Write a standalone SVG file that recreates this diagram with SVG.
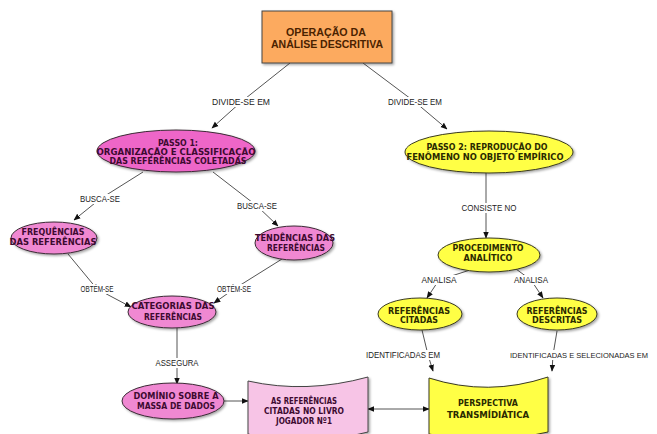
<svg xmlns="http://www.w3.org/2000/svg" width="657" height="434" viewBox="0 0 657 434">
<defs>
<filter id="sh" x="-20%" y="-20%" width="140%" height="150%">
<feDropShadow dx="1.5" dy="1.5" stdDeviation="1" flood-color="#000" flood-opacity="0.35"/>
</filter>
<marker id="ah" viewBox="0 0 10 10" refX="9" refY="5" markerWidth="7" markerHeight="7" orient="auto" markerUnits="userSpaceOnUse">
<path d="M0,1 L10,5 L0,9 Z" fill="#111"/>
</marker>
<marker id="ahs" viewBox="0 0 10 10" refX="1" refY="5" markerWidth="7" markerHeight="7" orient="auto" markerUnits="userSpaceOnUse">
<path d="M10,1 L0,5 L10,9 Z" fill="#111"/>
</marker>
</defs>
<style>
.bg{fill:#ffffff}
.ln{fill:none;stroke:#555;stroke-width:1}
.lab{font-family:"Liberation Sans",Arial,sans-serif;font-size:8.5px;fill:#222;text-anchor:middle}
.lbg{fill:#ffffff}
.nt{font-family:"DejaVu Sans",Verdana,sans-serif;font-weight:bold;font-size:8.5px;text-anchor:middle}
.pk1{fill:#ee66c8;stroke:#3a2a34;stroke-width:1;filter:url(#sh)}
.pk{fill:#f088d2;stroke:#3a2a34;stroke-width:1;filter:url(#sh)}
.pkb{fill:#f7c4e6;stroke:#444;stroke-width:1;filter:url(#sh)}
.yl{fill:#ffff44;stroke:#3a3a20;stroke-width:1;filter:url(#sh)}
.or{fill:#fcaa5e;stroke:#444;stroke-width:1;filter:url(#sh)}
.tp{fill:#3d0a30}
.ty{fill:#2a2a00}
.to{fill:#4a2200;font-family:"Liberation Sans",Arial,sans-serif;font-weight:bold;font-size:10.5px;text-anchor:middle}
</style>
<rect class="bg" x="0" y="0" width="657" height="434"/>

<g id="connectors">
<polyline class="ln" points="290,63 241,102 212,128" marker-end="url(#ah)"/>
<polyline class="ln" points="363,63 415,102 447,129" marker-end="url(#ah)"/>
<polyline class="ln" points="143,172 100,199 74,220" marker-end="url(#ah)"/>
<polyline class="ln" points="213,172 257,206 278,226" marker-end="url(#ah)"/>
<polyline class="ln" points="68,254 97,289 131,307" marker-end="url(#ah)"/>
<polyline class="ln" points="282,259 234,289 214,303" marker-end="url(#ah)"/>
<polyline class="ln" points="177,328 177,363 177,384" marker-end="url(#ah)"/>
<line class="ln" x1="224" y1="401" x2="248" y2="401" marker-end="url(#ah)"/>
<line class="ln" x1="368" y1="409" x2="429" y2="409" marker-start="url(#ahs)" marker-end="url(#ah)"/>
<polyline class="ln" points="486,173 486,208 486,238" marker-end="url(#ah)"/>
<polyline class="ln" points="470,270 439,280 427,298" marker-end="url(#ah)"/>
<polyline class="ln" points="516,269 531,280 543,298" marker-end="url(#ah)"/>
<polyline class="ln" points="422,330 428,355 433,371" marker-end="url(#ah)"/>
<polyline class="ln" points="557,331 553,355 552,371" marker-end="url(#ah)"/>

<rect class="lbg" x="211" y="97" width="60" height="10"/>
<text class="lab" x="241" y="105" textLength="58" lengthAdjust="spacingAndGlyphs">DIVIDE-SE EM</text>
<rect class="lbg" x="387" y="97" width="56" height="10"/>
<text class="lab" x="415" y="105" textLength="54" lengthAdjust="spacingAndGlyphs">DIVIDE-SE EM</text>
<rect class="lbg" x="79" y="194" width="42" height="10"/>
<text class="lab" x="100" y="202" textLength="40" lengthAdjust="spacingAndGlyphs">BUSCA-SE</text>
<rect class="lbg" x="236" y="201" width="42" height="10"/>
<text class="lab" x="257" y="209" textLength="40" lengthAdjust="spacingAndGlyphs">BUSCA-SE</text>
<rect class="lbg" x="80" y="284" width="35" height="10"/>
<text class="lab" x="97" y="292" textLength="33" lengthAdjust="spacingAndGlyphs">OBTÉM-SE</text>
<rect class="lbg" x="216" y="284" width="36" height="10"/>
<text class="lab" x="234" y="292" textLength="34" lengthAdjust="spacingAndGlyphs">OBTÉM-SE</text>
<rect class="lbg" x="154" y="358" width="46" height="10"/>
<text class="lab" x="177" y="366" textLength="43" lengthAdjust="spacingAndGlyphs">ASSEGURA</text>
<rect class="lbg" x="461" y="203" width="57" height="10"/>
<text class="lab" x="489" y="211" textLength="55" lengthAdjust="spacingAndGlyphs">CONSISTE NO</text>
<rect class="lbg" x="421" y="275" width="37" height="10"/>
<text class="lab" x="439" y="283" textLength="35" lengthAdjust="spacingAndGlyphs">ANALISA</text>
<rect class="lbg" x="513" y="275" width="36" height="10"/>
<text class="lab" x="531" y="283" textLength="34" lengthAdjust="spacingAndGlyphs">ANALISA</text>
<rect class="lbg" x="365" y="350" width="76" height="10"/>
<text class="lab" x="403" y="358" textLength="74" lengthAdjust="spacingAndGlyphs">IDENTIFICADAS EM</text>
<rect class="lbg" x="509" y="350" width="143" height="10"/>
<text class="lab" x="510" y="358" style="text-anchor:start;font-size:7.5px">IDENTIFICADAS E SELECIONADAS EM</text>
</g>

<g id="n-operacao">
<rect class="or" x="262" y="11" width="130" height="52"/>
<text class="to" x="326" y="36" textLength="80" lengthAdjust="spacingAndGlyphs">OPERAÇÃO DA</text>
<text class="to" x="327" y="48" textLength="112" lengthAdjust="spacingAndGlyphs">ANÁLISE DESCRITIVA</text>
</g>

<g id="n-passo1">
<ellipse class="pk1" cx="176" cy="151" rx="79" ry="21"/>
<text class="nt tp" x="178" y="146" textLength="40" lengthAdjust="spacingAndGlyphs">PASSO 1:</text>
<text class="nt tp" x="176" y="155" textLength="159" lengthAdjust="spacingAndGlyphs">ORGANIZAÇÃO E CLASSIFICAÇÃO</text>
<text class="nt tp" x="178" y="164" textLength="137" lengthAdjust="spacingAndGlyphs">DAS REFERÊNCIAS COLETADAS</text>
</g>

<g id="n-passo2">
<ellipse class="yl" cx="489" cy="152" rx="84" ry="21"/>
<text class="nt ty" x="487" y="150" textLength="121" lengthAdjust="spacingAndGlyphs">PASSO 2: REPRODUÇÃO DO</text>
<text class="nt ty" x="485" y="160" textLength="157" lengthAdjust="spacingAndGlyphs">FENÔMENO NO OBJETO EMPÍRICO</text>
</g>

<g id="n-frequencias">
<ellipse class="pk" cx="54" cy="238" rx="43" ry="16"/>
<text class="nt tp" x="53" y="235" textLength="63" lengthAdjust="spacingAndGlyphs">FREQUÊNCIAS</text>
<text class="nt tp" x="53" y="245" textLength="87" lengthAdjust="spacingAndGlyphs">DAS REFERÊNCIAS</text>
</g>

<g id="n-tendencias">
<ellipse class="pk" cx="294" cy="243" rx="39" ry="17"/>
<text class="nt tp" x="295" y="241" textLength="80" lengthAdjust="spacingAndGlyphs">TENDÊNCIAS DAS</text>
<text class="nt tp" x="296" y="251" textLength="58" lengthAdjust="spacingAndGlyphs">REFERÊNCIAS</text>
</g>

<g id="n-categorias">
<ellipse class="pk" cx="172" cy="312" rx="44" ry="16"/>
<text class="nt tp" x="173" y="309" textLength="83" lengthAdjust="spacingAndGlyphs">CATEGORIAS DAS</text>
<text class="nt tp" x="173" y="320" textLength="58" lengthAdjust="spacingAndGlyphs">REFERÊNCIAS</text>
</g>

<g id="n-dominio">
<ellipse class="pk" cx="173" cy="401" rx="51" ry="18"/>
<text class="nt tp" x="176" y="399" textLength="85" lengthAdjust="spacingAndGlyphs">DOMÍNIO SOBRE A</text>
<text class="nt tp" x="176" y="409" textLength="78" lengthAdjust="spacingAndGlyphs">MASSA DE DADOS</text>
</g>

<g id="n-referencias-livro">
<path class="pkb" d="M248,381 Q306,394 368,377 L368,432 Q306,448 248,434 Z"/>
<text class="nt tp" x="304" y="404" textLength="66" lengthAdjust="spacingAndGlyphs">AS REFERÊNCIAS</text>
<text class="nt tp" x="304" y="414" textLength="80" lengthAdjust="spacingAndGlyphs">CITADAS NO LIVRO</text>
<text class="nt tp" x="304" y="424" textLength="56" lengthAdjust="spacingAndGlyphs">JOGADOR Nº1</text>
</g>

<g id="n-procedimento">
<ellipse class="yl" cx="489" cy="255" rx="51" ry="17"/>
<text class="nt ty" x="488" y="251" textLength="71" lengthAdjust="spacingAndGlyphs">PROCEDIMENTO</text>
<text class="nt ty" x="488" y="261" textLength="49" lengthAdjust="spacingAndGlyphs">ANALÍTICO</text>
</g>

<g id="n-citadas">
<ellipse class="yl" cx="420" cy="314" rx="42" ry="16"/>
<text class="nt ty" x="419" y="314" textLength="62" lengthAdjust="spacingAndGlyphs">REFERÊNCIAS</text>
<text class="nt ty" x="419" y="323" textLength="38" lengthAdjust="spacingAndGlyphs">CITADAS</text>
</g>

<g id="n-descritas">
<ellipse class="yl" cx="557" cy="314" rx="40" ry="16"/>
<text class="nt ty" x="557" y="314" textLength="61" lengthAdjust="spacingAndGlyphs">REFERÊNCIAS</text>
<text class="nt ty" x="557" y="323" textLength="50" lengthAdjust="spacingAndGlyphs">DESCRITAS</text>
</g>

<g id="n-perspectiva">
<path class="yl" d="M429,378 Q488,397 548,377 L548,432 Q488,448 429,434 Z"/>
<text class="nt ty" x="488" y="406" textLength="60" lengthAdjust="spacingAndGlyphs">PERSPECTIVA</text>
<text class="nt ty" x="488" y="418" textLength="82" lengthAdjust="spacingAndGlyphs">TRANSMÍDIÁTICA</text>
</g>
</svg>
